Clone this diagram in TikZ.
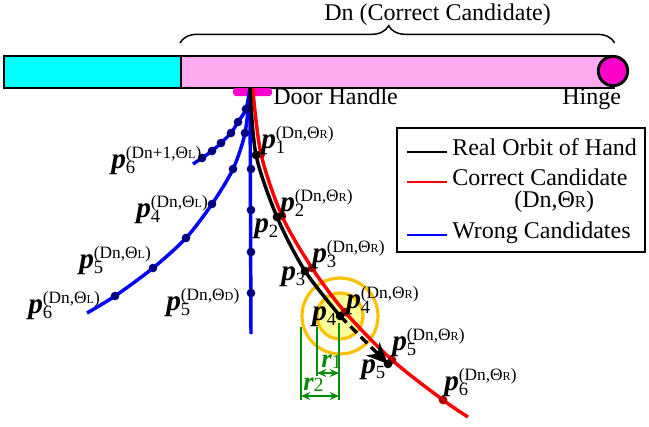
\documentclass[tikz,border=0pt]{standalone}
\usepackage{fontspec}
\setmainfont{Liberation Serif}
\usepackage{graphicx}
\usepackage{xcolor}
\usepackage{tikz}
\usetikzlibrary{arrows.meta, positioning, decorations.pathreplacing}

\definecolor{doorcyan}{HTML}{00FFFF}
\definecolor{doorpink}{HTML}{FFAAEE}
\definecolor{hingemag}{HTML}{FF00CC}
\definecolor{dotblue}{HTML}{000080}
\definecolor{dotred}{HTML}{B00000}
\definecolor{ringgold}{HTML}{FFC000}
\definecolor{ringfill}{HTML}{FFFF99}
\definecolor{dimgreen}{HTML}{0A8A0A}

\newcommand{\ThSub}[1]{Θ\scalebox{0.7}{#1}}
\newcommand{\ptlab}[2]{{\fontsize{22}{24}\selectfont\bfseries\itshape p}%
  \makebox[0pt][l]{\raisebox{-4pt}{\fontsize{14}{15}\selectfont #1}}%
  \raisebox{7.5pt}{\fontsize{13}{14}\selectfont #2}}
\newcommand{\rlab}[1]{{\fontsize{20}{22}\selectfont\bfseries\itshape r}%
  \raisebox{-1pt}{\fontsize{15}{16}\selectfont #1}}

\begin{document}
\begin{tikzpicture}[x=0.75pt, y=-0.75pt,
    orbit/.style={line width=2.6pt},
    real orbit/.style={orbit, black},
    correct orbit/.style={orbit, red},
    wrong orbit/.style={orbit, blue},
    dot/.style={circle, inner sep=0pt, minimum size=6.5pt},
    real dot/.style={dot, fill=black},
    correct dot/.style={dot, fill=dotred},
    wrong dot/.style={dot, fill=dotblue},
    lab/.style={inner sep=0pt, anchor=base west},
    txt/.style={inner sep=0pt, anchor=base west, font=\fontsize{18}{20}\selectfont},
    doorpart/.style={draw, line width=1.2pt, inner sep=0pt, anchor=north west,
                     minimum height=24pt},
    ring/.style={circle, draw=ringgold, line width=2.4pt, inner sep=0pt},
    dim/.style={dimgreen, line width=1pt},
    dimarrow/.style={dimgreen, line width=1.6pt,
                     {Stealth[length=7pt,width=6pt]}-{Stealth[length=7pt,width=6pt]}},
    legline/.style={line width=1.2pt},
  ]
    \useasboundingbox (0,0) rectangle (649,426);

    % Door and hinge
    \node[doorpart, fill=doorcyan, minimum width=132.75pt] (door-free) at (3,55) {};
    \node[doorpart, fill=doorpink, minimum width=324.75pt] (door-cand) at (180,55) {};
    \node[circle, draw, line width=2.2pt, fill=hingemag, minimum size=22pt,
          inner sep=0pt] (hinge) at (613,71) {};
    \node[rounded corners=2pt, fill=hingemag, minimum width=29pt, minimum height=6pt,
          inner sep=0pt] (handle) at (252.5,92) {};
    \node[txt] (handle-lab) at (273,104) {Door Handle};
    \node[txt] (hinge-lab) at (562,104) {Hinge};

    % Brace over the correct candidate
    \draw[decorate, decoration={brace, amplitude=13pt, aspect=0.48}, line width=1.1pt]
      ([yshift=9pt]door-cand.north west) -- ([yshift=9pt]door-cand.north east);
    \node[txt] (title) at (324,20) {Dn (Correct Candidate)};

    % Points of the orbits
    \coordinate (start) at (250,88);
    \foreach \n/\px/\py in {1/256/155, 2/277/217, 3/305/271, 4/340/316, 5/388/364}
      \coordinate (H-\n) at (\px,\py);
    \foreach \n/\px/\py in {1/261/154, 2/282/216, 3/312/268, 4/345/312, 5/392/360,
                            6/443/400, 7/468/417}
      \coordinate (R-\n) at (\px,\py);
    \foreach \n/\px/\py in {1/251/169, 2/251/210, 3/251/252, 4/251/293, 5/251/334}
      \coordinate (D-\n) at (\px,\py);
    \foreach \n/\px/\py in {1/245/133, 2/233/169, 3/212/204, 4/186/238, 5/153/268,
                            6/115/296, 7/87/313}
      \coordinate (L-\n) at (\px,\py);
    \foreach \n/\px/\py in {1/246/109, 2/238/122, 3/231/133, 4/221/143, 5/212/151,
                            6/202/158, 7/193/164}
      \coordinate (N-\n) at (\px,\py);

    % Search rings round p4
    \node[ring, minimum size=57pt] (ring-out) at (H-4) {};
    \node[ring, fill=ringfill, minimum size=34.5pt] (ring-in) at (H-4) {};

    % Wrong candidates
    \draw[wrong orbit] (start) -- (D-5);
    \draw[wrong orbit] plot[smooth] coordinates {(start) (L-1) (L-2) (L-3) (L-4) (L-5) (L-6) (L-7)};
    \draw[wrong orbit] plot[smooth] coordinates {(start) (N-1) (N-2) (N-3) (N-4) (N-5) (N-6) (N-7)};

    % Correct candidate
    \draw[correct orbit] plot[smooth] coordinates {([xshift=2pt]start) (R-1) (R-2) (R-3) (R-4) (R-5) (R-6) (R-7)};

    % Real orbit of the hand
    \draw[real orbit] plot[smooth] coordinates {(start) (H-1) (H-2) (H-3) (H-4)};
    \draw[real orbit, dash pattern=on 7pt off 4pt,
          -{Stealth[length=16pt, width=14pt, inset=5pt]}] (H-4) -- (H-5);

    % Dots
    \foreach \n in {1,...,4}
      \node[wrong dot] (d-\n) at (D-\n) {};
    \foreach \n in {1,...,6}
      \node[wrong dot] (l-\n) at (L-\n) {};
    \foreach \n in {1,...,6}
      \node[wrong dot] (m-\n) at (N-\n) {};
    \foreach \n in {1,...,6}
      \node[correct dot] (r-\n) at (R-\n) {};
    \foreach \n in {1,...,5}
      \node[real dot] (h-\n) at (H-\n) {};

    % Radii
    \coordinate (r2-top) at (301,327);
    \coordinate (r2-bot) at (301,400);
    \coordinate (r1-top) at (317,327);
    \coordinate (r1-bot) at (317,376);
    \coordinate (c-top) at (339,323);
    \coordinate (c-bot) at (339,400);
    \draw[dim] (r2-top) -- (r2-bot);
    \draw[dim] (r1-top) -- (r1-bot);
    \draw[dim] (c-top) -- (c-bot);
    \draw[dimarrow] (r1-bot |- 0,373) -- (c-bot |- 0,373);
    \draw[dimarrow] (r2-bot |- 0,396) -- (c-bot |- 0,396);
    \node[lab, text=dimgreen] (r1-lab) at (321,367) {\rlab{1}};
    \node[lab, text=dimgreen] (r2-lab) at (303,390) {\rlab{2}};

    % Labels of the correct candidate
    \node[lab] (lab-R1) at (261,148) {\ptlab{1}{(Dn,\ThSub{R})}};
    \node[lab] (lab-R2) at (280,211) {\ptlab{2}{(Dn,\ThSub{R})}};
    \node[lab] (lab-R3) at (312,262) {\ptlab{3}{(Dn,\ThSub{R})}};
    \node[lab] (lab-R4) at (346,308) {\ptlab{4}{(Dn,\ThSub{R})}};
    \node[lab] (lab-R5) at (392,350) {\ptlab{5}{(Dn,\ThSub{R})}};
    \node[lab] (lab-R6) at (444,390) {\ptlab{6}{(Dn,\ThSub{R})}};

    % Labels of the real orbit
    \node[lab] (lab-H2) at (254,232) {\ptlab{2}{}};
    \node[lab] (lab-H3) at (281,280) {\ptlab{3}{}};
    \node[lab] (lab-H4) at (312,320) {\ptlab{4}{}};
    \node[lab] (lab-H5) at (361,373) {\ptlab{5}{}};

    % Labels of the wrong candidates
    \node[lab] (lab-N6) at (111,168) {\ptlab{6}{(Dn+1,\ThSub{L})}};
    \node[lab] (lab-L4) at (136,217) {\ptlab{4}{(Dn,\ThSub{L})}};
    \node[lab] (lab-L5) at (79,268) {\ptlab{5}{(Dn,\ThSub{L})}};
    \node[lab] (lab-L6) at (28,313) {\ptlab{6}{(Dn,\ThSub{L})}};
    \node[lab] (lab-D5) at (166,310) {\ptlab{5}{(Dn,\ThSub{D})}};

    % Legend
    \node[draw, line width=1.5pt, minimum width=186pt, minimum height=93pt,
          inner sep=0pt] (legend) at (521,190) {};
    \node[txt] (leg-real) at (452,155) {Real Orbit of Hand};
    \node[txt] (leg-corr) at (452,185) {Correct Candidate};
    \node[txt] (leg-corr2) at (514,207) {(Dn,\ThSub{R})};
    \node[txt] (leg-wrong) at (452,238) {Wrong Candidates};
    \draw[legline, black] ([xshift=-3.75pt]leg-real.mid west) -- ++(-40,0);
    \draw[legline, red] ([xshift=-3.75pt]leg-corr.mid west) -- ++(-40,0);
    \draw[legline, blue] ([xshift=-3.75pt]leg-wrong.mid west) -- ++(-40,0);
\end{tikzpicture}
\end{document}
